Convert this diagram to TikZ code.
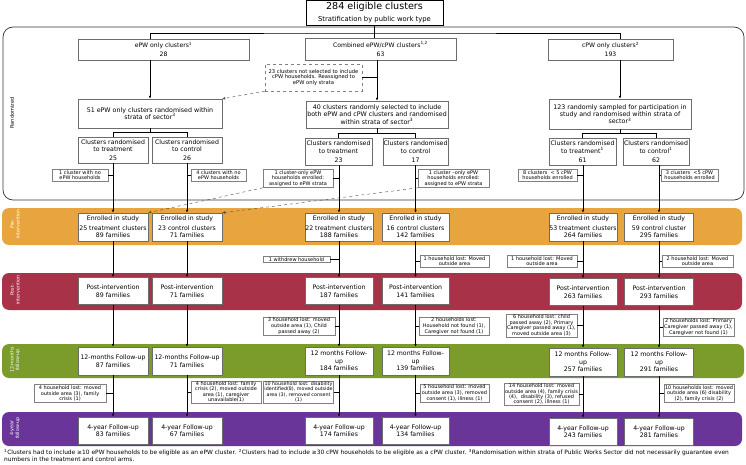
\documentclass[tikz,border=0pt]{standalone}
\usepackage{fontspec}
\setmainfont{DejaVu Sans}
\usetikzlibrary{arrows.meta}
\definecolor{preband}{HTML}{E8A53F}
\definecolor{postband}{HTML}{A83349}
\definecolor{fuband}{HTML}{7B9B2B}
\definecolor{yrband}{HTML}{6A3598}
\tikzset{
  typebox/.style={draw=gray!85!black, fill=white, align=center, inner sep=0.5pt, minimum height=21, font=\fontsize{6.1}{7.2}\selectfont},
  randbox/.style={draw=gray!85!black, fill=white, align=center, inner sep=0.5pt, font=\fontsize{6.3}{7.2}\selectfont},
  stage/.style={draw=gray!85!black, fill=white, align=center, inner sep=0.3pt, minimum height=27, font=\fontsize{6.2}{7.5}\selectfont},
  note/.style={draw=gray, fill=white, align=center, inner sep=1pt, font=\fontsize{5}{5.7}\selectfont},
  flow/.style={-{Latex[length=3pt,width=2.6pt]}, line width=0.6pt},
  band/.style={rounded corners=7pt},
  bandlabel/.style={rotate=90, align=center, text=white, font=\fontsize{4.8}{5.6}\selectfont},
}
\begin{document}
\begin{tikzpicture}[x=1pt,y=-1pt]
        \useasboundingbox (0,0) rectangle (746,465);
        % phase backgrounds
        \draw[rounded corners=10pt, line width=0.7pt, draw=black!80] (3,27) rectangle (744,200);
        \fill[band, preband] (2,208) rectangle (742,245);
        \fill[band, postband] (2,273) rectangle (742,310);
        \fill[band, fuband] (2,344) rectangle (744,378);
        \fill[band, yrband] (2,412) rectangle (742,446);
        \node[rotate=90, font=\fontsize{5}{5.8}\selectfont] (lrand) at (12,113) {Randomized};
        \node[bandlabel] (lpre) at (15,224) {Pre-\\intervention};
        \node[bandlabel] (lpost) at (15,290) {Post-\\intervention};
        \node[bandlabel] (lfu) at (15,360) {12-months\\follow-up};
        \node[bandlabel] (lyr) at (15,428) {4-year\\follow-up};
        % top
        \node[draw, line width=0.7pt, fill=white, minimum width=137, minimum height=25, align=center, inner sep=0.5pt] (top) at (374.5,12.5)
          {{\fontsize{9.6}{10}\selectfont 284 eligible clusters}\\[0.5pt]{\fontsize{6.8}{7.5}\selectfont Stratification by public work type}};
        \node[typebox, minimum width=171] (epw) at (163.5,49.5) {ePW only clusters\textsuperscript{1}\\[2pt]28};
        \node[typebox, minimum width=151, minimum height=22] (comb) at (380.5,49) {Combined ePW/cPW clusters\textsuperscript{1,2}\\[2pt]63};
        \node[typebox, minimum width=125] (cpw) at (610.5,49.5) {cPW only clusters\textsuperscript{2}\\[2pt]193};
        \node[note, dashed, minimum width=97, minimum height=27, font=\fontsize{5.2}{5.7}\selectfont] (moved) at (313.5,77.5) {23 clusters not selected to include\\cPW households. Reassigned to\\ePW only strata};
        \node[randbox, minimum width=144, minimum height=29] (r51) at (150,113.5) {51 ePW only clusters randomised within\\strata of sector\textsuperscript{3}};
        \node[randbox, minimum width=142, minimum height=27] (r40) at (377,114.5) {40 clusters randomly selected to include\\both ePW and cPW clusters and randomised\\within strata of sector\textsuperscript{3}};
        \node[randbox, minimum width=142, minimum height=30] (r123) at (620,114) {123 randomly sampled for participation in\\study and randomised within strata of\\sector\textsuperscript{3}};
        % randomised arms
        \node[stage, minimum width=70, minimum height=26] (et) at (113,150) {Clusters randomised\\to treatment\\[1.5pt]25};
        \node[stage, minimum width=70, minimum height=26] (ec) at (187,150) {Clusters randomised\\to control\\[1.5pt]26};
        \node[stage, minimum width=67] (ct) at (338.5,151.5) {Clusters randomised\\to treatment\\[1.5pt]23};
        \node[stage, minimum width=65] (cc) at (415.5,151.5) {Clusters randomised\\to control\\[1.5pt]17};
        \node[stage, minimum width=67] (pt) at (582.5,151.5) {Clusters randomised\\to treatment\textsuperscript{1}\\[1.5pt]61};
        \node[stage, minimum width=66] (pc) at (656,151.5) {Clusters randomised\\to control\textsuperscript{1}\\[1.5pt]62};
        % enrolled
        \node[stage, minimum width=70, minimum height=28] (enr1) at (113,227) {Enrolled in study\\[2pt]25 treatment clusters\\89 families};
        \node[stage, minimum width=70, minimum height=28] (enr2) at (187,227) {Enrolled in study\\[2pt]23 control clusters\\71 families};
        \node[stage, minimum width=68, minimum height=28] (enr3) at (339,227) {Enrolled in study\\[2pt]22 treatment clusters\\188 families};
        \node[stage, minimum width=67, minimum height=28] (enr4) at (415.5,227) {Enrolled in study\\[2pt]16 control clusters\\142 families};
        \node[stage, minimum width=68, minimum height=28] (enr5) at (583,227) {Enrolled in study\\[2pt]53 treatment clusters\\264 families};
        \node[stage, minimum width=69, minimum height=28] (enr6) at (659,227) {Enrolled in study\\[2pt]59 control cluster\\295 families};
        % post-intervention
        \node[stage, minimum width=70] (post1) at (113,291) {Post-intervention\\89 families};
        \node[stage, minimum width=70] (post2) at (187,291) {Post-intervention\\71 families};
        \node[stage, minimum width=68] (post3) at (339,291) {Post-intervention\\187 families};
        \node[stage, minimum width=67] (post4) at (415.5,291) {Post-intervention\\141 families};
        \node[stage, minimum width=68] (post5) at (583,292) {Post-intervention\\263 families};
        \node[stage, minimum width=69] (post6) at (659,292) {Post-intervention\\293 families};
        % 12 months
        \node[stage, minimum width=70, minimum height=28] (fu1) at (113,361) {12-months Follow-up\\87 families};
        \node[stage, minimum width=70, minimum height=28] (fu2) at (187,361) {12-months Follow-up\\71 families};
        \node[stage, minimum width=68, minimum height=28] (fu3) at (339,361) {12 months Follow-\\up\\184 families};
        \node[stage, minimum width=67, minimum height=28] (fu4) at (415.5,361) {12 months Follow-\\up\\139 families};
        \node[stage, minimum width=68, minimum height=28] (fu5) at (583,362) {12 months Follow-\\up\\257 families};
        \node[stage, minimum width=69, minimum height=28] (fu6) at (659,362) {12 months Follow-\\up\\291 families};
        % 4 years
        \node[stage, minimum width=70] (yr1) at (113,430.5) {4-year Follow-up\\83 families};
        \node[stage, minimum width=70] (yr2) at (187,430.5) {4-year Follow-up\\67 families};
        \node[stage, minimum width=68] (yr3) at (339,430.5) {4-year Follow-up\\174 families};
        \node[stage, minimum width=67] (yr4) at (415.5,430.5) {4-year Follow-up\\134 families};
        \node[stage, minimum width=68] (yr5) at (583,431.5) {4-year Follow-up\\243 families};
        \node[stage, minimum width=69] (yr6) at (659,431.5) {4-year Follow-up\\281 families};
        % notes before enrolment
        \node[note, minimum width=56] (n1) at (80,175) {1 cluster with no\\ePW households};
        \node[note, minimum width=55] (n2) at (218.5,175) {4 clusters with no\\ePW households};
        \node[note, minimum width=70] (n3) at (298,178.5) {1 cluster-only ePW\\households enrolled:\\assigned to ePW strata};
        \node[note, minimum width=71] (n4) at (453.5,178.5) {1 cluster --only ePW\\households enrolled:\\assigned to ePW strata};
        \node[note, minimum width=59] (n5) at (547.5,175) {8 clusters \ {<} 5 cPW\\households enrolled};
        \node[note, minimum width=57] (n6) at (689.5,175) {3 clusters \ {<}5 cPW\\households enrolled};
        % notes before post-intervention
        \node[note, minimum width=67] (m3) at (296.5,259.5) {1 withdrew household};
        \node[note, minimum width=69] (m4) at (454.5,261) {1 household lost: Moved\\outside area};
        \node[note, minimum width=70] (m5) at (542,261) {1 household lost: Moved\\outside area};
        \node[note, minimum width=71] (m6) at (697.5,261) {2 household lost: Moved\\outside area};
        % notes before 12 months
        \node[note, minimum width=72] (p3) at (299,326) {3 household lost: moved\\outside area (1), Child\\passed away (2)};
        \node[note, minimum width=70] (p4) at (454,326) {2 households lost:\\Household not found (1),\\Caregiver not found (1)};
        \node[note, minimum width=71, font=\fontsize{5}{5.4}\selectfont] (p5) at (541.5,325.5) {6 household lost: child\\passed away (2), Primary\\Caregiver passed away (1),\\moved outside area (3)};
        \node[note, minimum width=71] (p6) at (698.5,327) {2 households lost: Primary\\Caregiver passed away (1),\\Caregiver not found (1)};
        % notes before 4 years
        \node[note, minimum width=72] (q1) at (70,393.5) {4 household lost: moved\\outside area (3), family\\crisis (1)};
        \node[note, minimum width=70, font=\fontsize{5}{5.3}\selectfont] (q2) at (226,392) {4 household lost: family\\crisis (2), moved outside\\area (1), caregiver\\unavailable(1)};
        \node[note, minimum width=70, font=\fontsize{4.8}{5.3}\selectfont] (q3) at (298.5,392) {10 household lost: disability\\identified(8), moved outside\\area (3), removed consent\\(1)};
        \node[note, minimum width=69] (q4) at (454.5,393) {5 household lost: moved\\outside area (3), removed\\consent (1), illness (1)};
        \node[note, minimum width=71, font=\fontsize{5}{5.1}\selectfont] (q5) at (541.5,394) {14 household lost: moved\\outside area (4), family crisis\\(4), \ disability (3), refused\\consent (2), illness (1)};
        \node[note, minimum width=70] (q6) at (699,393.5) {10 households lost: moved\\outside area (6) disability\\(2), family crisis (2)};
        % footnote
        \node[anchor=north west, inner sep=0pt, align=left, font=\fontsize{5.9}{7}\selectfont] (foot) at (4,449)
          {\textsuperscript{1}Clusters had to include ≥10 ePW households to be eligible as an ePW cluster. \textsuperscript{2}Clusters had to include ≥30 cPW households to be eligible as a cPW cluster. \textsuperscript{3}Randomisation within strata of Public Works Sector did not necessarily guarantee even\\numbers in the treatment and control arms.};
        % connectors at the top
        \coordinate (split) at (374.5,33);
        \draw[line width=0.6pt] (top.south) -- (top.south |- comb.north);
        \draw[line width=0.6pt] (epw.north -| r51.north) |- (split) -| (cpw.north -| r123.north);
        \draw[flow] (epw.south -| r51.north) -- (r51.north);
        \draw[flow] (comb.south -| r40.north) -- (r40.north);
        \draw[flow] (cpw.south -| r123.north) -- (r123.north);
        \draw[line width=0.6pt] (moved.east) -- (moved.east -| r40.north);
        \draw[flow, dashed, line width=0.4pt, draw=black!70] (moved.south west) -- (r51.north east);
        % splits into arms
        \draw[line width=0.6pt] (r51.south) -- ++(0,4);
        \draw[line width=0.6pt] (et.north) |- ([yshift=-4pt]r51.south) -| (ec.north);
        \draw[line width=0.6pt] (r40.south) -- ++(0,5);
        \draw[line width=0.6pt] (ct.north) |- ([yshift=-5pt]r40.south) -| (cc.north);
        \draw[line width=0.6pt] (r123.south) -- ++(0,4);
        \draw[line width=0.6pt] (pt.north) |- ([yshift=-4pt]r123.south) -| (pc.north);
        % arms to enrolment
        \draw[flow] (et.south -| enr1.north) -- (enr1.north);
        \draw[flow] (ec.south -| enr2.north) -- (enr2.north);
        \draw[flow] (ct.south -| enr3.north) -- (enr3.north);
        \draw[flow] (cc.south -| enr4.north) -- (enr4.north);
        \draw[flow] (pt.south -| enr5.north) -- (enr5.north);
        \draw[flow] (pc.south -| enr6.north) -- (enr6.north);
        \draw[flow, dashed, line width=0.4pt, draw=black!70] (n3.south west) -- (enr1.north east);
        \draw[flow, dashed, line width=0.4pt, draw=black!70] (n4.south west) -- (enr2.north east);
        % follow-up arrows
        \foreach \i in {1,...,6} {
          \draw[flow] (enr\i.south) -- (post\i.north);
          \draw[flow] (post\i.south) -- (fu\i.north);
          \draw[flow] (fu\i.south) -- (yr\i.north);
        }
        % note ticks
        \draw (n1.east) -- (n1.east -| enr1.north);
        \draw (n2.west) -- (n2.west -| enr2.north);
        \draw (n3.east) -- (n3.east -| enr3.north);
        \draw (n4.west) -- (n4.west -| enr4.north);
        \draw (n5.east) -- (n5.east -| enr5.north);
        \draw (n6.west) -- (n6.west -| enr6.north);
        \draw (m3.east) -- (m3.east -| post3.north);
        \draw (m4.west) -- (m4.west -| post4.north);
        \draw (m5.east) -- (m5.east -| post5.north);
        \draw (m6.west) -- (m6.west -| post6.north);
        \draw (p3.east) -- (p3.east -| fu3.north);
        \draw (p4.west) -- (p4.west -| fu4.north);
        \draw (p5.east) -- (p5.east -| fu5.north);
        \draw (p6.west) -- (p6.west -| fu6.north);
        \draw (q1.east) -- (q1.east -| yr1.north);
        \draw (q2.west) -- (q2.west -| yr2.north);
        \draw (q3.east) -- (q3.east -| yr3.north);
        \draw (q4.west) -- (q4.west -| yr4.north);
        \draw (q5.east) -- (q5.east -| yr5.north);
        \draw (q6.west) -- (q6.west -| yr6.north);
\end{tikzpicture}
\end{document}
